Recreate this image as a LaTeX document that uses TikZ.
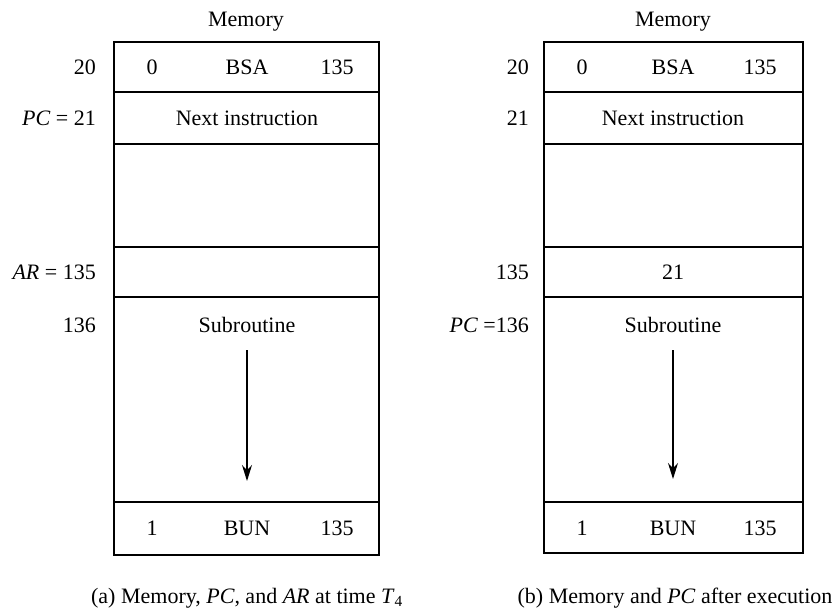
\documentclass[tikz,border=0pt]{standalone}
\usepackage{fontspec}
\setmainfont{Liberation Serif}
\usepackage{tikz}
\usetikzlibrary{arrows.meta}

\begin{document}
\begin{tikzpicture}[x=1pt,y=-1pt,font=\fontsize{22}{26}\selectfont]
\tikzset{cell/.style={draw,line width=2pt,rectangle,inner sep=0pt,minimum width=#1}}
\tikzset{addr/.style={anchor=east,inner sep=0pt}}
\useasboundingbox (0,0) rectangle (833,611);

% (a) memory at time T4
\node (ma) at (246,22) {Memory};
\node (a1) at (246.5,67)  [cell=265pt,minimum height=50pt] {};
\node (a2) at (246.5,118) [cell=265pt,minimum height=52pt] {};
\node (a3) at (246.5,195.5) [cell=265pt,minimum height=103pt] {};
\node (a4) at (246.5,272) [cell=265pt,minimum height=50pt] {};
\node (a5) at (246.5,399.5) [cell=265pt,minimum height=205pt] {};
\node (a6) at (246.5,528.5) [cell=265pt,minimum height=53pt] {};

\node (a1i) at (152,67) {0};
\node (a1o) at (247,67) {BSA};
\node (a1d) at (337,67) {135};
\node (a2t) at (247,118) {Next instruction};
\node (a5t) at (247,325) {Subroutine};
\node (a6i) at (152,528) {1};
\node (a6o) at (247,528) {BUN};
\node (a6d) at (337,528) {135};

\node (la1) at (96,67)  [addr] {20};
\node (la2) at (96,118) [addr] {\textit{PC} = 21};
\node (la4) at (96,272) [addr] {\textit{AR} = 135};
\node (la5) at (96,325) [addr] {136};

\coordinate (asrc) at (247,350);
\coordinate (adst) at (247,481);
\path (asrc) edge [-{Stealth[length=16pt,width=10pt]}, line width=1.2pt] (adst);

\node (capa) at (247,598) {(a) Memory, \textit{PC}, and \textit{AR} at time \textit{T}\textsubscript{4}};

% (b) memory and PC after execution
\node (mb) at (673,22) {Memory};
\node (b1) at (673.5,67)  [cell=259pt,minimum height=50pt] {};
\node (b2) at (673.5,118) [cell=259pt,minimum height=52pt] {};
\node (b3) at (673.5,195.5) [cell=259pt,minimum height=103pt] {};
\node (b4) at (673.5,272) [cell=259pt,minimum height=50pt] {};
\node (b5) at (673.5,399.5) [cell=259pt,minimum height=205pt] {};
\node (b6) at (673.5,527.5) [cell=259pt,minimum height=51pt] {};

\node (b1i) at (582,67) {0};
\node (b1o) at (673,67) {BSA};
\node (b1d) at (760,67) {135};
\node (b2t) at (673,118) {Next instruction};
\node (b4t) at (673,272) {21};
\node (b5t) at (673,325) {Subroutine};
\node (b6i) at (582,528) {1};
\node (b6o) at (673,528) {BUN};
\node (b6d) at (760,528) {135};

\node (lb1) at (529,67)  [addr] {20};
\node (lb2) at (529,118) [addr] {21};
\node (lb4) at (529,272) [addr] {135};
\node (lb5) at (529,325) [addr] {\textit{PC} =136};

\coordinate (bsrc) at (673,350);
\coordinate (bdst) at (673,479);
\path (bsrc) edge [-{Stealth[length=16pt,width=10pt]}, line width=1.2pt] (bdst);

\node (capb) at (675,598) {(b) Memory and \textit{PC} after execution};
\end{tikzpicture}
\end{document}
